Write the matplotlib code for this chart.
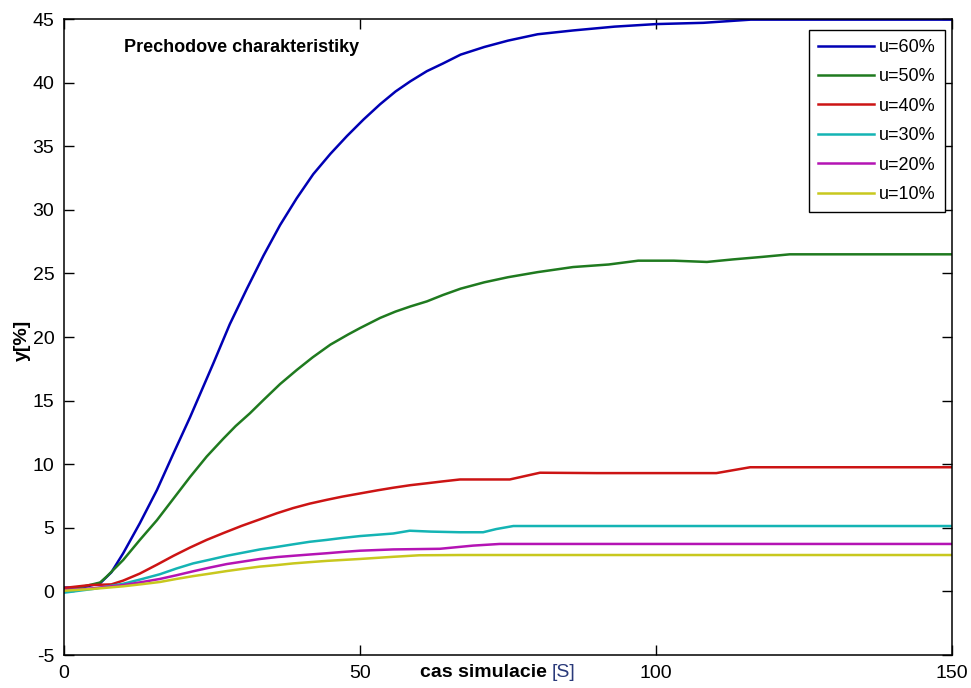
import matplotlib
matplotlib.use("Agg")
import matplotlib.pyplot as plt

plt.rcParams['font.family'] = ['Liberation Sans Narrow', 'Liberation Sans', 'DejaVu Sans']
plt.rcParams['axes.unicode_minus'] = False

# step responses (time in s, output in %)
t_60 = [0, 3, 6.1, 8, 10, 12.8, 15.7, 18.5, 21.3, 25.2, 28, 30.9, 33.7, 36.5, 39.3, 42.1, 45,
        47.8, 50.6, 53.4, 56, 58.5, 61.3, 64, 67, 71, 75, 80, 86, 93, 100, 108, 116, 150]
y_60 = [0.3, 0.3, 0.64, 1.5, 3.0, 5.35, 7.97, 10.86, 13.7, 17.9, 21.0, 23.8, 26.4, 28.8, 30.9, 32.8, 34.4,
        35.8, 37.1, 38.3, 39.3, 40.1, 40.9, 41.5, 42.2, 42.8, 43.3, 43.8, 44.1, 44.4, 44.6, 44.7, 44.95, 44.95]

t_50 = [0, 3, 6.1, 7.2, 10, 12.8, 15.7, 18.5, 21.3, 24.1, 26.9, 29, 31.4, 33.7, 36.5, 39.3, 42, 45,
        48, 50, 53.4, 56, 58.5, 61.3, 64, 67, 71, 75, 80, 86, 92, 97, 103, 108.6, 113, 118, 122.6, 150]
y_50 = [0.2, 0.35, 0.7, 1.16, 2.47, 4.04, 5.6, 7.3, 9.0, 10.6, 12.0, 13.0, 14.0, 15.05, 16.3, 17.4, 18.4, 19.4,
        20.2, 20.7, 21.5, 22.0, 22.4, 22.8, 23.3, 23.8, 24.3, 24.7, 25.1, 25.5, 25.7, 26.0, 26.0, 25.9,
        26.1, 26.3, 26.5, 26.5]

t_40 = [0, 4.4, 8, 10, 12.8, 15.7, 18.5, 21.3, 24.1, 27, 30, 33, 36, 38.7, 41.5, 44.4, 47, 50,
        53, 55.6, 58.5, 61.3, 64, 66.9, 75.3, 80.4, 90, 100, 110.2, 115.9, 150]
y_40 = [0.27, 0.5, 0.55, 0.85, 1.4, 2.1, 2.8, 3.45, 4.05, 4.6, 5.15, 5.65, 6.15, 6.55, 6.9, 7.2, 7.45, 7.7,
        7.95, 8.15, 8.35, 8.5, 8.65, 8.8, 8.8, 9.33, 9.3, 9.3, 9.3, 9.76, 9.76]

t_30 = [0, 5, 10, 13, 16.2, 19, 21.8, 24.7, 27.5, 30.3, 33.1, 36, 38.7, 41.5, 44.4, 47, 50, 55.6,
        58.4, 62, 66.9, 70.8, 73, 75.9, 150]
y_30 = [-0.1, 0.2, 0.6, 0.95, 1.35, 1.8, 2.2, 2.5, 2.8, 3.05, 3.3, 3.5, 3.7, 3.9, 4.05, 4.2, 4.35, 4.55,
        4.77, 4.7, 4.65, 4.65, 4.9, 5.14, 5.14]

t_20 = [0, 5, 10, 13, 16.2, 19, 21.8, 24.7, 27.5, 30.3, 33.1, 36, 38.7, 41.5, 44.4, 47, 50, 55.6,
        63.5, 69.1, 73.6, 150]
y_20 = [0.1, 0.25, 0.5, 0.72, 0.98, 1.27, 1.58, 1.88, 2.15, 2.35, 2.55, 2.7, 2.8, 2.9, 3.0, 3.1, 3.2, 3.3,
        3.35, 3.6, 3.73, 3.73]

t_10 = [0, 5, 10, 13, 16.2, 19, 21.8, 24.7, 27.5, 30.3, 33.1, 36, 38.7, 41.5, 44.4, 50, 55.6, 60, 66.9, 150]
y_10 = [0.05, 0.2, 0.4, 0.56, 0.74, 0.98, 1.2, 1.4, 1.6, 1.78, 1.95, 2.07, 2.2, 2.3, 2.4, 2.55, 2.72, 2.84,
        2.86, 2.86]

labels = ['u=60%', 'u=50%', 'u=40%', 'u=30%', 'u=20%', 'u=10%']
colors = ['#0000b4', '#1f7a1f', '#cc1414', '#14b4b4', '#b414b4', '#c8c81e']

x_ticks = [0, 50, 100, 150]
y_ticks = [-5, 0, 5, 10, 15, 20, 25, 30, 35, 40, 45]

fig = plt.figure(figsize=(9.71, 6.88), dpi=100)
ax = fig.add_axes([64 / 971, 33 / 688, 888 / 971, 636 / 688])

series = [(t_60, y_60), (t_50, y_50), (t_40, y_40), (t_30, y_30), (t_20, y_20), (t_10, y_10)]
for (t, y), lab, c in zip(series, labels, colors):
    ax.plot(t, y, color=c, linewidth=1.8, label=lab)

ax.set_xlim(0, 150)
ax.set_ylim(-5, 45)
ax.set_xticks(x_ticks)
ax.set_yticks(y_ticks)
ax.tick_params(direction='in', length=7, width=1, top=True, right=True, labelsize=14, pad=7)
for s in ax.spines.values():
    s.set_linewidth(1.1)

# labels sit inside / on the tick row like the original MATLAB export
ax.text(0.0676, 0.948, 'Prechodove charakteristiky', transform=ax.transAxes,
        fontsize=13, fontweight='bold', ha='left', va='baseline')
ax.text(0.5495, -0.027, 'cas simulacie ', transform=ax.transAxes, fontsize=14,
        fontweight='bold', ha='right', va='center')
ax.text(0.5495, -0.027, '[S]', transform=ax.transAxes, fontsize=14,
        color='#2a3a7a', ha='left', va='center')
ax.text(-0.047, 0.494, 'y[%]', transform=ax.transAxes, fontsize=14,
        fontweight='bold', rotation=90, ha='center', va='center')

leg = ax.legend(loc='upper right', bbox_to_anchor=(0.992, 0.983), borderaxespad=0,
                fontsize=13, handlelength=3.1, handletextpad=0.3, labelspacing=0.69,
                fancybox=False, framealpha=1, edgecolor='black', borderpad=0.5)
leg.get_frame().set_linewidth(1.0)

plt.savefig("out.png", dpi=100)
